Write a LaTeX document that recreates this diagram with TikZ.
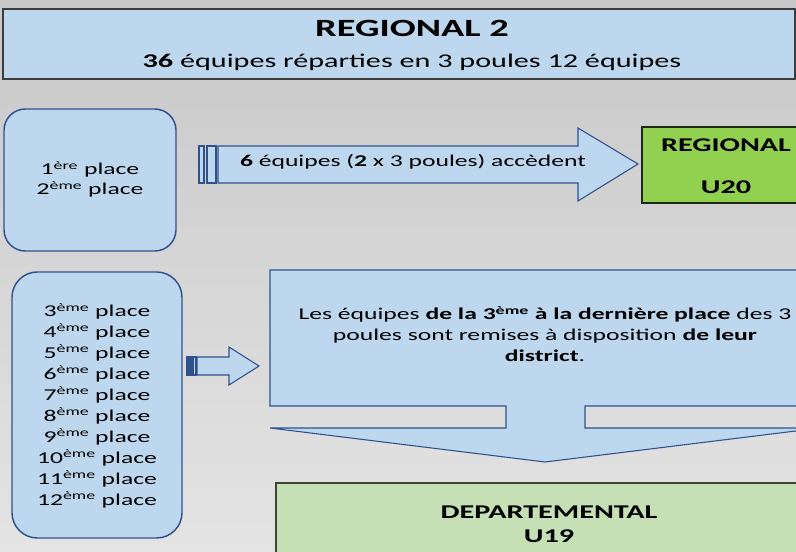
\documentclass[tikz,border=0pt]{standalone}
\usepackage{fontspec}
\setmainfont{Carlito}[FakeStretch=1.55]
\usepackage{xcolor}

\definecolor{boxblue}{RGB}{189,215,238}
\definecolor{lineblue}{RGB}{47,82,143}
\definecolor{regiongreen}{RGB}{146,208,80}
\definecolor{deptgreen}{RGB}{197,224,180}

\tikzset{
  bluebox/.style={draw=lineblue, line width=0.8pt, fill=boxblue},
  roundbox/.style={bluebox, line width=1.1pt},
  bigtext/.style={inner sep=0pt, font=\fontsize{18.6}{22}\selectfont\bfseries},
  midtext/.style={inner sep=0pt, font=\fontsize{14.6}{17}\selectfont},
  boldtext/.style={inner sep=0pt, font=\fontsize{14.6}{17}\selectfont\bfseries},
  smalltext/.style={inner sep=0pt, align=center, font=\fontsize{12.4}{15.7}\selectfont},
}

\begin{document}
\begin{tikzpicture}[x=0.75pt,y=0.75pt,yscale=-1,xscale=1]
        \clip (0,0) rectangle (796,552);

        %Shape: Background
        \shade [top color={rgb,255:red,200;green,200;blue,200}, bottom color={rgb,255:red,228;green,228;blue,228}] (0,0) rectangle (796,552);

        %Shape: Rectangle [title]
        \draw [draw={rgb,255:red,60;green,60;blue,60}, line width=0.8pt, fill=boxblue] (3,9) rectangle (795,79);
        % Text Node
        \node [bigtext, anchor=base] (title) at (412,37) {REGIONAL 2};
        % Text Node
        \node [midtext, anchor=base] (subtitle) at (412,68) {\textbf{36} équipes réparties en 3 poules 12 équipes};

        %Shape: Rounded Rectangle [top places]
        \draw [roundbox, rounded corners=16pt] (4,109) rectangle (176,251);
        % Text Node (base = last line)
        \node [smalltext, anchor=base, font=\fontsize{12.4}{15}\selectfont] (topplaces) at (90,195) {1\textsuperscript{ère} place\\2\textsuperscript{ème} place};

        %Shape: Striped Right Arrow [up]
        \draw [bluebox] (199,146) rectangle (204,183);
        \draw [bluebox] (207,146) rectangle (216,183);
        \draw [bluebox] (218,146) -- (578,146) -- (578,128) -- (638,164) -- (578,201) -- (578,183) -- (218,183) -- cycle;
        % Text Node
        \node [smalltext, anchor=base] (upinfo) at (413,167) {\textbf{6} équipes (\textbf{2} x 3 poules) accèdent};

        %Shape: Rectangle [regional]
        \draw [draw={rgb,255:red,30;green,40;blue,20}, line width=0.8pt, fill=regiongreen] (642,127) rectangle (810,203);
        % Text Node
        \node [boldtext, anchor=base] (regional) at (726,152) {REGIONAL};
        % Text Node
        \node [boldtext, anchor=base] (u20) at (726,194) {U20};

        %Shape: Rounded Rectangle [other places]
        \draw [roundbox, rounded corners=19pt] (12,272) rectangle (182,538);
        % Text Node (base = last line)
        \node [smalltext, anchor=base, font=\fontsize{12.4}{15.68}\selectfont] (otherplaces) at (97,505) {3\textsuperscript{ème} place\\4\textsuperscript{ème} place\\5\textsuperscript{ème} place\\6\textsuperscript{ème} place\\7\textsuperscript{ème} place\\8\textsuperscript{ème} place\\9\textsuperscript{ème} place\\10\textsuperscript{ème} place\\11\textsuperscript{ème} place\\12\textsuperscript{ème} place};

        %Shape: Striped Right Arrow [down]
        \draw [bluebox, fill=lineblue] (187,357) rectangle (192,375);
        \draw [bluebox] (193,357) rectangle (196,375);
        \draw [bluebox] (197,357) -- (229,357) -- (229,347) -- (259,366) -- (229,385) -- (229,375) -- (197,375) -- cycle;

        %Shape: Down Arrow Callout [district]
        \draw [bluebox] (270,270) -- (822,270) -- (822,406) -- (585,406) -- (585,428) -- (820,428) -- (545,462) -- (270,428) -- (506,428) -- (506,406) -- (270,406) -- cycle;
        % Text Node (base = last line)
        \node [smalltext, anchor=base, font=\fontsize{12.4}{15.4}\selectfont] (districtinfo) at (545,361) {Les équipes \textbf{de la 3\textsuperscript{ème} à la dernière place} des 3\\poules sont remises à disposition \textbf{de leur}\\\textbf{district}.};

        %Shape: Rectangle [departemental]
        \draw [draw={rgb,255:red,60;green,70;blue,50}, line width=0.8pt, fill=deptgreen] (276,483) rectangle (822,580);
        % Text Node
        \node [boldtext, anchor=base] (dept) at (549,518) {DEPARTEMENTAL};
        % Text Node
        \node [boldtext, anchor=base] (u19) at (549,542) {U19};

\end{tikzpicture}
\end{document}
